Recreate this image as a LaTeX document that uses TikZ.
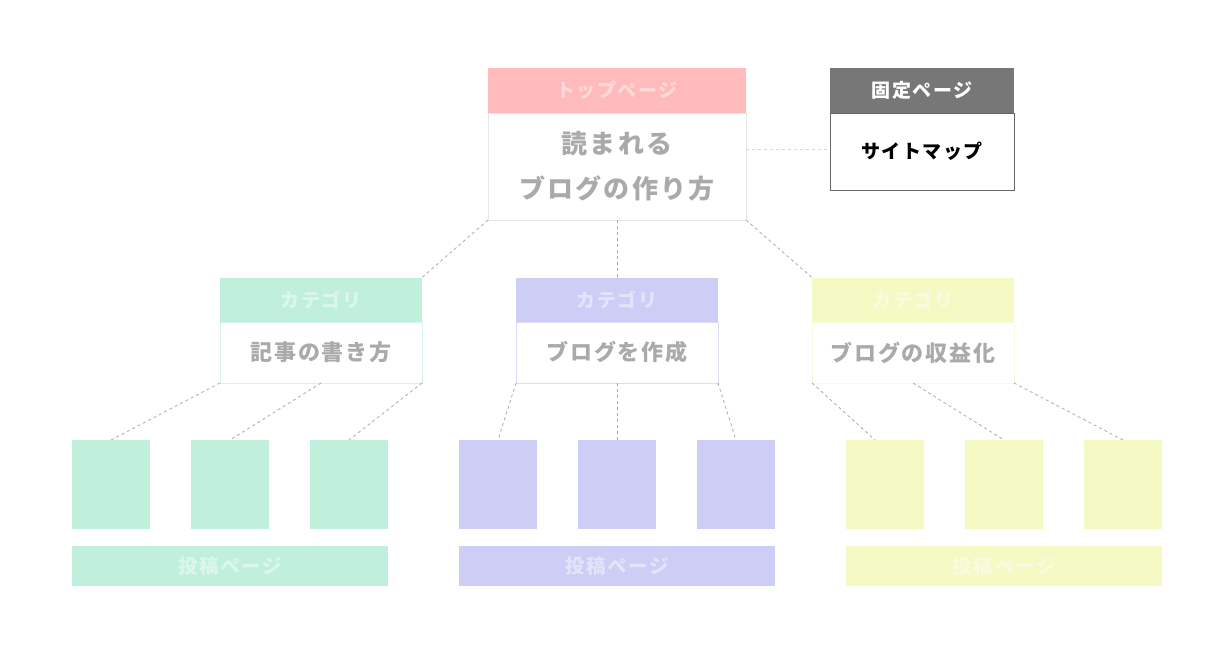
\documentclass[tikz,border=0pt]{standalone}
\usepackage{fontspec}
\newfontfamily\jp[LetterSpace=8]{Noto Sans CJK JP}
\definecolor{pinkH}{HTML}{FFBBBB}
\definecolor{greyL}{HTML}{E6E6E6}
\definecolor{greyT}{HTML}{AAAAAA}
\definecolor{darkH}{HTML}{777777}
\definecolor{darkB}{HTML}{666666}
\definecolor{greenH}{HTML}{C0F0DC}
\definecolor{greenB}{HTML}{D2F5E7}
\definecolor{purpH}{HTML}{CDCDF5}
\definecolor{purpB}{HTML}{DDDDF8}
\definecolor{yelH}{HTML}{F5F9C4}
\definecolor{yelB}{HTML}{F8FADA}
\definecolor{lineC}{HTML}{AAAAAA}
\tikzset{
  box/.style={rectangle, inner sep=0pt, outer sep=0pt},
  hdr/.style={box, minimum height=45pt, text=white, text opacity=0.45, font=\jp\bfseries\fontsize{19}{22}\selectfont},
  body/.style={box, fill=white, line width=1pt, text=greyT, font=\jp\bfseries\fontsize{22}{26}\selectfont},
  post/.style={box, minimum width=78pt, minimum height=89pt},
  bar/.style={box, minimum width=316pt, minimum height=40pt, text=white, text opacity=0.45, font=\jp\bfseries\fontsize{19.5}{22}\selectfont},
  conn/.style={draw=lineC, line width=0.8pt, dash pattern=on 3pt off 3pt},
}
\begin{document}
\begin{tikzpicture}[x=1pt,y=-1pt]
\useasboundingbox (0,0) rectangle (1231,653);
% top page
\node[hdr, fill=pinkH, minimum width=258pt] (toph) at (617,90.5) {トップページ};
\node[body, draw=greyL, minimum width=258pt, minimum height=107pt, align=center, font=\jp\bfseries\fontsize{26}{45}\selectfont] (topb) at (617,166.5) {読まれる\\ブログの作り方};
% fixed page
\node[hdr, fill=darkH, text opacity=1, minimum width=184pt] (fixh) at (922,90.5) {固定ページ};
\node[body, draw=darkB, minimum width=184pt, minimum height=77pt, text=black, font=\jp\bfseries\fontsize{19}{22}\selectfont] (fixb) at (922,151.5) {サイトマップ};
% categories
\node[hdr, fill=greenH, minimum width=202pt] (c1h) at (321,300) {カテゴリ};
\node[body, draw=greenB, minimum width=202pt, minimum height=61pt] (c1b) at (321,352.5) {記事の書き方};
\node[hdr, fill=purpH, minimum width=202pt] (c2h) at (617,300) {カテゴリ};
\node[body, draw=purpB, minimum width=202pt, minimum height=61pt] (c2b) at (617,352.5) {ブログを作成};
\node[hdr, fill=yelH, minimum width=202pt] (c3h) at (913,300) {カテゴリ};
\node[body, draw=yelB, minimum width=202pt, minimum height=61pt] (c3b) at (913,352.5) {ブログの収益化};
% posts
\node[post, fill=greenH] (g1) at (111,484.5) {};
\node[post, fill=greenH] (g2) at (230,484.5) {};
\node[post, fill=greenH] (g3) at (349,484.5) {};
\node[post, fill=purpH] (p1) at (498,484.5) {};
\node[post, fill=purpH] (p2) at (617,484.5) {};
\node[post, fill=purpH] (p3) at (736,484.5) {};
\node[post, fill=yelH] (y1) at (885,484.5) {};
\node[post, fill=yelH] (y2) at (1004,484.5) {};
\node[post, fill=yelH] (y3) at (1123,484.5) {};
% bars
\node[bar, fill=greenH] (gb) at (230,566) {投稿ページ};
\node[bar, fill=purpH] (pb) at (617,566) {投稿ページ};
\node[bar, fill=yelH] (yb) at (1004,566) {投稿ページ};
% connectors
\coordinate (tfy) at ([yshift=2.5pt]fixb.west);
\draw[conn, draw=greyL!70!lineC] (tfy -| topb.east) -- (tfy);
\draw[conn] (topb.south west) -- (c1h.north east);
\draw[conn] (topb.south) -- (c2h.north);
\draw[conn] (topb.south east) -- (c3h.north west);
\draw[conn] (c1b.south west) -- (g1.north);
\draw[conn] (c1b.south) -- (g2.north);
\draw[conn] (c1b.south east) -- (g3.north);
\draw[conn] (c2b.south west) -- (p1.north);
\draw[conn] (c2b.south) -- (p2.north);
\draw[conn] (c2b.south east) -- (p3.north);
\draw[conn] (c3b.south west) -- ([xshift=-10pt]y1.north);
\draw[conn] (c3b.south) -- (y2.north);
\draw[conn] (c3b.south east) -- (y3.north);
\end{tikzpicture}
\end{document}
